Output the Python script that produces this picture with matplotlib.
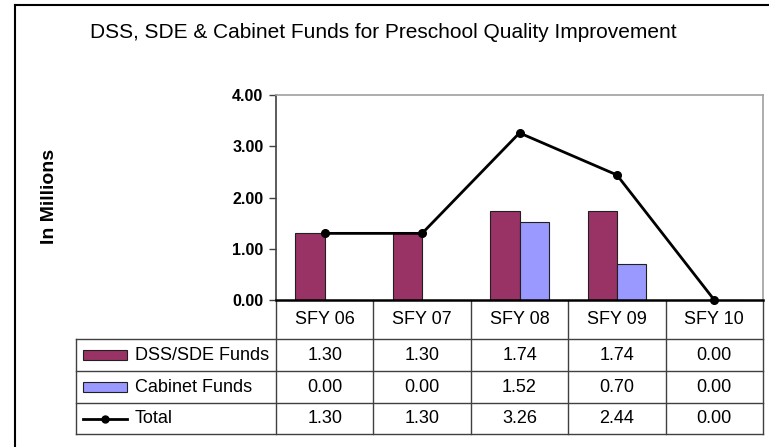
import matplotlib
matplotlib.use("Agg")
import matplotlib.pyplot as plt
from matplotlib.patches import Rectangle

categories = ["SFY 06", "SFY 07", "SFY 08", "SFY 09", "SFY 10"]
dss_sde = [1.30, 1.30, 1.74, 1.74, 0.00]
cabinet = [0.00, 0.00, 1.52, 0.70, 0.00]
total = [1.30, 1.30, 3.26, 2.44, 0.00]
series_names = ["DSS/SDE Funds", "Cabinet Funds", "Total"]
title = "DSS, SDE & Cabinet Funds for Preschool Quality Improvement"
ylabel = "In Millions"
yticks = [0.0, 1.0, 2.0, 3.0, 4.0]

font = "Liberation Sans"

W, H = 769, 447
fig = plt.figure(figsize=(W / 100, H / 100), dpi=100)

# overlay axes in pixel coordinates for frame/table
ov = fig.add_axes([0, 0, 1, 1])
ov.set_xlim(0, W)
ov.set_ylim(H, 0)
ov.axis("off")

# outer frame (cut on right/bottom)
ov.plot([15, 15], [5, H + 5], color="black", lw=1.5, clip_on=False)
ov.plot([15, W + 5], [5, 5], color="black", lw=1.5, clip_on=False)

L, R, T, B = 276, 763, 95, 300
ax = fig.add_axes([L / W, 1 - B / H, (R - L) / W, (B - T) / H])
x = list(range(len(categories)))
bw = 0.3
ax.bar([i - bw / 2 for i in x], dss_sde, width=bw, color="#993366",
       edgecolor="#202020", linewidth=0.8, zorder=2)
ax.bar([i + bw / 2 for i in x], cabinet, width=bw, color="#9999FF",
       edgecolor="#202020", linewidth=0.8, zorder=2)
ax.plot(x, total, color="black", lw=2, marker="o", markersize=5.5, zorder=3,
        clip_on=False)
ax.set_xlim(-0.5, len(categories) - 0.5)
ax.set_ylim(0, 4)
ax.set_yticks(yticks)
ax.set_yticklabels([f"{v:.2f}" for v in yticks], fontfamily=font,
                   fontweight="bold", fontsize=11.5)
ax.set_xticks([])
ax.tick_params(axis="y", length=5, width=1, color="#404040", pad=4)
for s in ["top", "right"]:
    ax.spines[s].set_color("#A0A0A0")
    ax.spines[s].set_linewidth(1.2)
ax.spines["left"].set_color("#404040")
ax.spines["left"].set_linewidth(1.2)
ax.spines["bottom"].set_color("black")
ax.spines["bottom"].set_linewidth(1.8)

fig.text(383 / W, 1 - 33 / H, title, ha="center", va="center",
         fontfamily=font, fontsize=15)
fig.text(49 / W, 1 - 196 / H, ylabel, ha="center", va="center", rotation=90,
         fontfamily=font, fontweight="bold", fontsize=14)

# table
ncol = len(categories)
colw = (R - L) / ncol
row_top = [339, 371, 403]
row_bot = [371, 403, 434]
TL = 76
lc = "#404040"
for j in range(ncol + 1):
    xx = L + j * colw
    ov.plot([xx, xx], [B, 434], color=lc, lw=1)
ov.plot([TL, TL], [339, 434], color=lc, lw=1)
for yy in [339, 371, 403, 434]:
    ov.plot([TL, R], [yy, yy], color=lc, lw=1)
for j, c in enumerate(categories):
    ov.text(L + (j + 0.5) * colw, 319, c, ha="center", va="center",
            fontfamily=font, fontsize=13)
rows = [dss_sde, cabinet, total]
for r, vals in enumerate(rows):
    yc = (row_top[r] + row_bot[r]) / 2
    for j, v in enumerate(vals):
        ov.text(L + (j + 0.5) * colw, yc, f"{v:.2f}", ha="center", va="center",
                fontfamily=font, fontsize=13)
    ov.text(135, yc, series_names[r], ha="left", va="center",
            fontfamily=font, fontsize=13)
# legend keys
for r, col in enumerate(["#993366", "#9999FF"]):
    yc = (row_top[r] + row_bot[r]) / 2
    ov.add_patch(Rectangle((83, yc - 5), 44, 10, facecolor=col,
                           edgecolor="#202020", lw=0.8))
yc = (row_top[2] + row_bot[2]) / 2
ov.plot([83, 127], [yc, yc], color="black", lw=2)
ov.plot([105], [yc], marker="o", color="black", markersize=5)

fig.savefig("out.png", dpi=100)
